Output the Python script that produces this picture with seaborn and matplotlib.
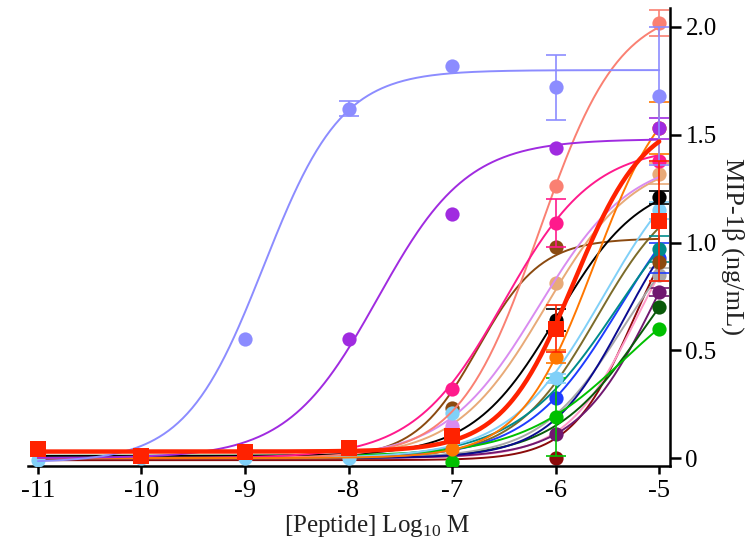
import numpy as np
import pandas as pd
import matplotlib
matplotlib.use("Agg")
import matplotlib.pyplot as plt
import seaborn as sns

nan = np.nan

# log10 of peptide concentration (M)
log_dose = [-11, -10, -9, -8, -7, -6, -5]

# peptides in drawing order (back to front)
peptides = ["P01", "P02", "P03", "P04", "P05", "P06", "P07", "P08", "P09", "P10", "P11",
            "P12", "P13", "P14", "P15", "P16", "P17", "P18", "P19", "P20", "P21"]
colors = ["#8B0A0A", "#FF9AC8", "#701870", "#0A5A0A", "#A8A8A8", "#0A0A90", "#7B6B2A",
          "#1E3CFF", "#008B8B", "#00C000", "#8B4A10", "#E8AA78", "#D98CF0", "#80D0F8",
          "#000000", "#FA8072", "#FF1A8C", "#FF7700", "#A02BE0", "#8C8CFF", "#FF2200"]
markers = ["o"] * 20 + ["s"]
line_widths = [1.4] * 20 + [3.2]

# mean MIP-1beta response (ng/mL) at each dose
resp_p01 = [nan, nan, nan, nan, nan, 0.00, nan]
resp_p02 = [nan, nan, nan, nan, nan, nan, nan]
resp_p03 = [nan, nan, nan, nan, nan, 0.11, 0.77]
resp_p04 = [nan, nan, nan, nan, nan, nan, 0.70]
resp_p05 = [nan, nan, nan, nan, nan, nan, 0.85]
resp_p06 = [nan, nan, nan, nan, nan, nan, nan]
resp_p07 = [nan, nan, nan, nan, nan, nan, nan]
resp_p08 = [nan, nan, nan, nan, nan, 0.28, 0.93]
resp_p09 = [nan, nan, nan, nan, nan, nan, 0.97]
resp_p10 = [nan, nan, nan, nan, -0.02, 0.19, 0.60]
resp_p11 = [nan, nan, nan, nan, 0.23, 0.98, 0.91]
resp_p12 = [nan, nan, nan, nan, nan, 0.81, 1.32]
resp_p13 = [nan, nan, nan, nan, 0.15, nan, nan]
resp_p14 = [-0.01, 0.00, 0.00, 0.00, 0.21, 0.37, 1.15]
resp_p15 = [nan, nan, nan, nan, nan, 0.64, 1.21]
resp_p16 = [nan, nan, nan, nan, nan, 1.26, 2.02]
resp_p17 = [nan, nan, nan, nan, 0.32, 1.09, 1.38]
resp_p18 = [nan, nan, nan, nan, 0.04, 0.47, 1.53]
resp_p19 = [nan, nan, nan, 0.55, 1.13, 1.44, 1.53]
resp_p20 = [nan, nan, 0.55, 1.62, 1.82, 1.72, 1.68]
resp_p21 = [0.04, 0.01, 0.03, 0.045, 0.10, 0.60, 1.10]

# SEM at each dose
sem_p01 = [0, 0, 0, 0, 0, 0, 0]
sem_p02 = [0, 0, 0, 0, 0, 0, 0]
sem_p03 = [0, 0, 0, 0, 0, 0, 0.02]
sem_p04 = [0, 0, 0, 0, 0, 0, 0]
sem_p05 = [0, 0, 0, 0, 0, 0, 0.03]
sem_p06 = [0, 0, 0, 0, 0, 0, 0]
sem_p07 = [0, 0, 0, 0, 0, 0, 0]
sem_p08 = [0, 0, 0, 0, 0, 0, 0.07]
sem_p09 = [0, 0, 0, 0, 0, 0, 0.06]
sem_p10 = [0, 0, 0, 0, 0, 0.18, 0]
sem_p11 = [0, 0, 0, 0, 0, 0, 0]
sem_p12 = [0, 0, 0, 0, 0, 0, 0.05]
sem_p13 = [0, 0, 0, 0, 0, 0, 0]
sem_p14 = [0, 0, 0, 0, 0, 0.02, 0.04]
sem_p15 = [0, 0, 0, 0, 0, 0.05, 0.03]
sem_p16 = [0, 0, 0, 0, 0, 0, 0.06]
sem_p17 = [0, 0, 0, 0, 0, 0.11, 0]
sem_p18 = [0, 0, 0, 0, 0, 0.03, 0.12]
sem_p19 = [0, 0, 0, 0, 0, 0, 0.05]
sem_p20 = [0, 0, 0, 0.035, 0, 0.15, 0.32]
sem_p21 = [0, 0, 0, 0, 0, 0.11, 0.28]

# four-parameter logistic fit of each peptide
fit_bottom = [-0.01, 0.0, 0.0, 0.0, 0.0, 0.0, 0.0, 0.0, 0.0, 0.01, 0.0,
              0.0, 0.0, 0.0, 0.01, 0.0, 0.0, 0.0, 0.0, -0.02, 0.03]
fit_top = [1.30, 1.30, 1.50, 1.20, 1.20, 1.30, 1.30, 1.40, 1.40, 0.90, 1.02,
           1.40, 1.40, 1.50, 1.30, 2.10, 1.45, 1.80, 1.48, 1.80, 1.60]
fit_logec50 = [-5.246, -5.218, -5.02, -5.147, -5.355, -5.335, -5.606, -5.38, -5.40, -5.344, -6.75,
               -6.10, -6.168, -5.54, -5.988, -6.16, -6.50, -5.626, -7.72, -8.82, -5.825]
fit_hill = [1.43, 1.27, 1.12, 0.99, 1.08, 1.19, 1.10, 0.97, 0.88, 0.87, 1.43,
            1.00, 0.97, 0.96, 1.07, 1.12, 1.00, 1.21, 1.00, 1.15, 1.26]

responses = [resp_p01, resp_p02, resp_p03, resp_p04, resp_p05, resp_p06, resp_p07,
             resp_p08, resp_p09, resp_p10, resp_p11, resp_p12, resp_p13, resp_p14,
             resp_p15, resp_p16, resp_p17, resp_p18, resp_p19, resp_p20, resp_p21]
sems = [sem_p01, sem_p02, sem_p03, sem_p04, sem_p05, sem_p06, sem_p07,
        sem_p08, sem_p09, sem_p10, sem_p11, sem_p12, sem_p13, sem_p14,
        sem_p15, sem_p16, sem_p17, sem_p18, sem_p19, sem_p20, sem_p21]


def logistic4(x, bottom, top, logec50, hill):
    return bottom + (top - bottom) / (1.0 + 10.0 ** (hill * (logec50 - x)))


sns.set_theme(style="white")
plt.rcParams["font.family"] = ["Liberation Serif", "DejaVu Serif"]
plt.rcParams["mathtext.fontset"] = "custom"
plt.rcParams["mathtext.rm"] = "Liberation Serif"
plt.rcParams["axes.unicode_minus"] = False

fig = plt.figure(figsize=(7.53, 5.46), dpi=100)
ax = fig.add_axes([0.037, 0.1465, 0.853, 0.8388])

x_fit = np.linspace(-11, -5, 400)
for i, name in enumerate(peptides):
    z = 2 + i
    curve = pd.DataFrame({
        "log_dose": x_fit,
        "response": logistic4(x_fit, fit_bottom[i], fit_top[i], fit_logec50[i], fit_hill[i]),
    })
    sns.lineplot(data=curve, x="log_dose", y="response", color=colors[i],
                 linewidth=line_widths[i], ax=ax, zorder=z)

    pts = pd.DataFrame({"log_dose": log_dose, "response": responses[i], "sem": sems[i]}).dropna()
    bars = pts[pts["sem"] > 0]
    if len(bars):
        ax.errorbar(bars["log_dose"], bars["response"], yerr=bars["sem"], fmt="none",
                    ecolor=colors[i], elinewidth=1.2, capsize=7, capthick=1.2, zorder=z)
    if len(pts):
        sns.scatterplot(data=pts, x="log_dose", y="response", color=colors[i],
                        marker=markers[i], s=120 if markers[i] == "s" else 105,
                        linewidth=0, ax=ax, zorder=z + 0.5)

ax.set_xlim(-11.097, -4.894)
ax.set_ylim(-0.037, 2.088)

ax.set_xticks(log_dose)
ax.set_xticklabels([str(v) for v in log_dose])
ax.set_yticks([0, 0.5, 1.0, 1.5, 2.0])
ax.set_yticklabels(["0", "0.5", "1.0", "1.5", "2.0"])

ax.yaxis.tick_right()
ax.yaxis.set_label_position("right")
for side in ["left", "top"]:
    ax.spines[side].set_visible(False)
for side in ["bottom", "right"]:
    ax.spines[side].set_visible(True)
    ax.spines[side].set_color("black")
    ax.spines[side].set_linewidth(1.8)

ax.tick_params(axis="x", direction="out", length=6, width=1.8, labelsize=19,
               colors="black", bottom=True, pad=4)
ax.tick_params(axis="y", direction="out", length=8, width=1.8, labelsize=18,
               colors="black", right=True, left=False, pad=3)
ax.grid(False)

ax.set_xlabel("[Peptide] Log$_{10}$ M", fontsize=18, color="#222222")
ax.set_ylabel("MIP-1\u03b2 (ng/mL)", fontsize=19, rotation=270, color="#222222")
ax.xaxis.set_label_coords(0.544, -0.103)
ax.yaxis.set_label_coords(1.115, 0.48)

fig.savefig("out.png", dpi=100, facecolor="white")
